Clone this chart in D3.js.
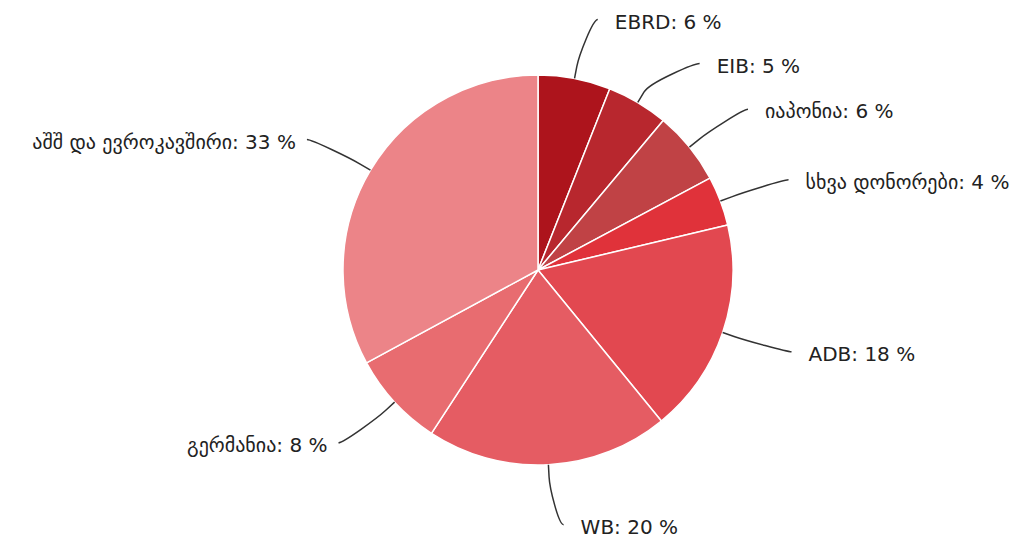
<!DOCTYPE html>
<html>
<head>
<meta charset="utf-8">
<script src="https://cdn.jsdelivr.net/npm/d3@7"></script>
<style>
  html, body { margin: 0; padding: 0; background: #fff; }
  svg { display: block; }
</style>
</head>
<body>
<div id="chart"></div>
<script>
// donor shares, clockwise from 12 o'clock
const names = ["EBRD", "EIB", "იაპონია", "სხვა დონორები", "ADB", "WB", "გერმანია", "აშშ და ევროკავშირი"];
const shares = [6.0, 5.1, 6.1, 4.1, 17.8, 20.1, 7.9, 32.9];
const shown = [6, 5, 6, 4, 18, 20, 8, 33];
const colors = ["#ad141c", "#b8272e", "#c04245", "#e0323a", "#e24850", "#e55c63", "#e86c70", "#ec8488"];

const width = 1025, height = 539;
const cx = 538, cy = 270, radius = 195;
const labelRadius = 255;
const minGap = 44;

const svg = d3.select("#chart").append("svg")
    .attr("width", width)
    .attr("height", height);

const data = names.map((n, i) => ({ name: n, value: shares[i], pct: shown[i], color: colors[i] }));

const pie = d3.pie().sort(null).value(d => d.value);
const arcs = pie(data);

const arc = d3.arc().innerRadius(0).outerRadius(radius);

const g = svg.append("g").attr("transform", `translate(${cx},${cy})`);

g.selectAll("path.slice")
    .data(arcs)
    .enter()
    .append("path")
    .attr("class", "slice")
    .attr("d", arc)
    .attr("fill", d => d.data.color)
    .attr("stroke", "#fff")
    .attr("stroke-width", 1.5)
    .attr("stroke-linejoin", "round");

// label layout: natural y on the label circle, then push apart
const polar = (r, a) => [r * Math.sin(a), -r * Math.cos(a)];
arcs.forEach(d => {
    d.mid = (d.startAngle + d.endAngle) / 2;
    d.right = Math.sin(d.mid) >= 0;
    d.ly = polar(labelRadius, d.mid)[1];
});

const right = arcs.filter(d => d.right).sort((a, b) => a.ly - b.ly);
for (let i = 1; i < right.length; i++) {
    right[i].ly = Math.max(right[i].ly, right[i - 1].ly + minGap);
}
const left = arcs.filter(d => !d.right).sort((a, b) => a.ly - b.ly);
for (let i = 1; i < left.length; i++) {
    left[i].ly = Math.max(left[i].ly, left[i - 1].ly + minGap);
}

arcs.forEach(d => {
    const s = d.right ? 1 : -1;
    const dy = Math.max(-labelRadius, Math.min(labelRadius, d.ly));
    d.lx = s * Math.sqrt(labelRadius * labelRadius - dy * dy);
    d.endX = d.lx + s * 12;
});

const connector = d => {
    const s = d.right ? 1 : -1;
    const touch = polar(radius, d.mid);
    const brk = polar(radius + 12, d.mid);
    const ctrl = polar(radius + 24, d.mid);
    const p = d3.path();
    p.moveTo(d.endX, d.ly);
    p.bezierCurveTo(d.endX - s * 5, d.ly, ctrl[0], ctrl[1], brk[0], brk[1]);
    p.lineTo(touch[0], touch[1]);
    return p.toString();
};

g.selectAll("path.connector")
    .data(arcs)
    .enter()
    .append("path")
    .attr("class", "connector")
    .attr("d", connector)
    .attr("fill", "none")
    .attr("stroke", "#333")
    .attr("stroke-width", 1.5);

g.selectAll("text.label")
    .data(arcs)
    .enter()
    .append("text")
    .attr("class", "label")
    .attr("x", d => d.right ? d.endX + 17 : d.endX - 11)
    .attr("y", d => d.ly + 2)
    .attr("dy", "0.35em")
    .attr("text-anchor", d => d.right ? "start" : "end")
    .attr("font-family", "'DejaVu Sans', Verdana, sans-serif")
    .attr("font-size", "20px")
    .attr("fill", "#222")
    .text(d => `${d.data.name}: ${d.data.pct} %`);
</script>
</body>
</html>
